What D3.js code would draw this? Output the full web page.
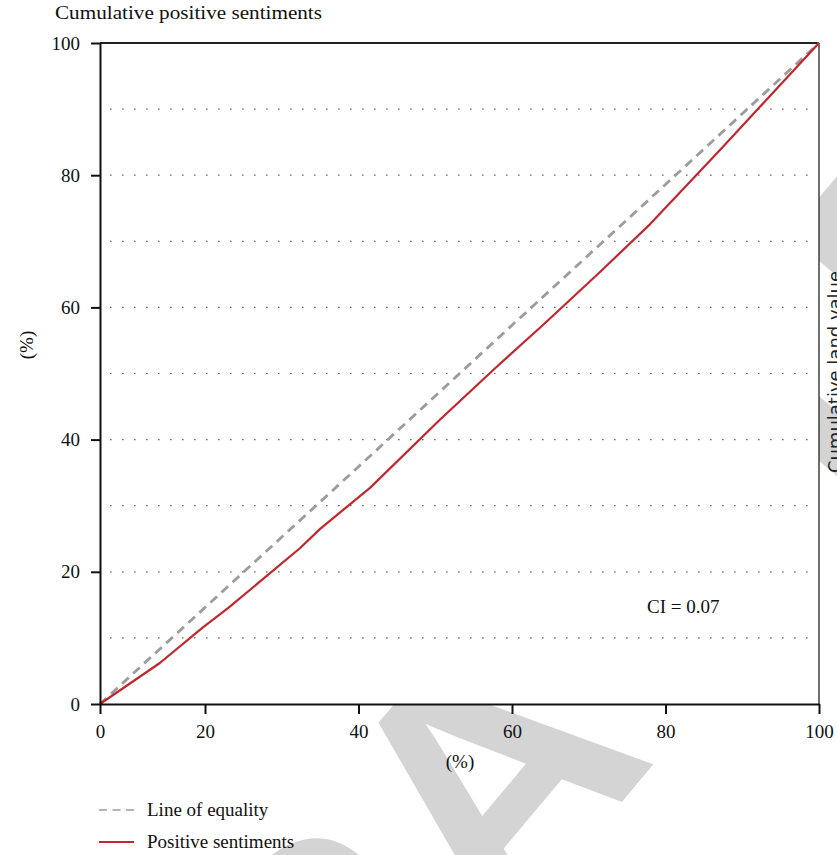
<!DOCTYPE html>
<html><head><meta charset="utf-8">
<script src="https://cdn.jsdelivr.net/npm/d3@7"></script>
<style>body{margin:0;background:#fff}svg{display:block}</style>
</head><body>
<svg id="c" width="837" height="855"></svg>
<script>
// ---- data ----
const xTicks = [0, 20, 40, 60, 80, 100];
const yTicks = [0, 20, 40, 60, 80, 100];
const gridValues = [10, 20, 30, 40, 50, 60, 70, 80, 90];
const equalityX = [0, 20, 40, 60, 80, 100];
const equalityY = [0, 14.6, 35.9, 57.3, 78.6, 100];
const positiveX = [0, 11.4, 19.6, 23.0, 32.4, 35.0, 41.5, 50.6, 57.8, 64.0, 71.5, 78.0, 87.1, 100];
const positiveY = [0, 6.2, 11.6, 14.5, 23.6, 26.5, 32.7, 43.0, 50.8, 57.3, 65.4, 72.6, 83.8, 100];
const legendLabels = ["Line of equality", "Positive sentiments"];
const titleText = "Cumulative positive sentiments";
const rightTitleText = "Cumulative land value";
const axisTitle = "(%)";
const ciLabel = "CI = 0.07";
const watermarkText = "RETRACTED";

// ---- layout ----
const svg = d3.select("#c");
const L = 100, R = 819, T = 43, B = 704;
const x = d3.scaleLinear().domain([0, 20, 100]).range([L, 205, R]);
const y = d3.scaleLinear().domain([0, 100]).range([B, T]);
const serif = "'Liberation Serif', 'Times New Roman', serif";
const wmColor = "#d4d4d4";

// ---- watermark (behind everything) ----
const wmSize = 345;
const wm = svg.append("g");
const wmT = wm.append("text").text(watermarkText)
  .attr("font-family", "'Liberation Sans', Arial, sans-serif")
  .attr("font-weight", "bold").attr("font-size", wmSize).attr("fill", wmColor);
const aStart = wmT.node().getSubStringLength(0, 4);
const aW = wmT.node().getSubStringLength(4, 1);
const capH = 0.716 * wmSize;
wmT.attr("transform", `translate(390,694) rotate(-50) translate(${-(aStart + aW / 2)},${capH})`);

// right clipped title
svg.append("text").text(rightTitleText)
  .attr("font-family", "'DejaVu Sans', sans-serif").attr("font-size", 18).attr("fill", "#222")
  .attr("text-anchor", "middle")
  .attr("transform", "translate(841,372) rotate(-90)");

// plot background (covers watermark)
svg.append("rect").attr("x", L).attr("y", T).attr("width", R - L).attr("height", B - T).attr("fill", "#fff");

// gridlines
svg.append("g").selectAll("line").data(gridValues).join("line")
  .attr("x1", L + 10).attr("x2", R - 6)
  .attr("y1", d => y(d)).attr("y2", d => y(d))
  .attr("stroke", "#6a6a6a").attr("stroke-width", 1.2).attr("stroke-dasharray", "1.6,10.4");

// right border & top border
svg.append("line").attr("x1", R).attr("x2", R).attr("y1", T).attr("y2", B).attr("stroke", "#222").attr("stroke-width", 1.3);
svg.append("line").attr("x1", L).attr("x2", R).attr("y1", T).attr("y2", T).attr("stroke", "#222").attr("stroke-width", 2);

// lines
const lineGen = d3.line().x(d => x(d[0])).y(d => y(d[1]));
const eqData = equalityX.map((v, i) => [v, equalityY[i]]);
const posData = positiveX.map((v, i) => [v, positiveY[i]]);
svg.append("path").datum(eqData).attr("d", lineGen).attr("fill", "none")
  .attr("stroke", "#9c9c9c").attr("stroke-width", 2.8).attr("stroke-dasharray", "9,6");
svg.append("path").datum(posData).attr("d", lineGen).attr("fill", "none")
  .attr("stroke", "#c1272d").attr("stroke-width", 2.2).attr("stroke-linejoin", "round");

// axes
const yAxis = svg.append("g").attr("transform", `translate(${L},0)`)
  .call(d3.axisLeft(y).tickValues(yTicks).tickSize(9).tickSizeOuter(0).tickPadding(11));
const xAxis = svg.append("g").attr("transform", `translate(0,${B})`)
  .call(d3.axisBottom(x).tickValues(xTicks).tickSize(10).tickSizeOuter(0).tickPadding(11));
[yAxis, xAxis].forEach(a => {
  a.select(".domain").attr("stroke", "#111").attr("stroke-width", 2);
  a.selectAll(".tick line").attr("stroke", "#111").attr("stroke-width", 2);
  a.selectAll(".tick text").attr("font-family", serif).attr("font-size", 19).attr("fill", "#111");
});

// titles
svg.append("text").text(titleText).attr("x", 55).attr("y", 19)
  .attr("font-family", serif).attr("font-size", 19).attr("fill", "#111")
  .attr("textLength", 267).attr("lengthAdjust", "spacingAndGlyphs");
svg.append("text").text(axisTitle).attr("text-anchor", "middle")
  .attr("transform", "translate(33,345) rotate(-90)")
  .attr("font-family", serif).attr("font-size", 19).attr("fill", "#111");
svg.append("text").text(axisTitle).attr("text-anchor", "middle").attr("x", 460).attr("y", 768)
  .attr("font-family", serif).attr("font-size", 19).attr("fill", "#111");

// CI annotation
svg.append("text").text(ciLabel).attr("x", 647).attr("y", 613)
  .attr("font-family", serif).attr("font-size", 19).attr("fill", "#111");

// legend
const lg = svg.append("g");
const legendY = [810, 842];
lg.append("line").attr("x1", 99).attr("x2", 134).attr("y1", legendY[0]).attr("y2", legendY[0])
  .attr("stroke", "#9c9c9c").attr("stroke-width", 1.6).attr("stroke-dasharray", "8,5.5");
lg.append("line").attr("x1", 99).attr("x2", 134).attr("y1", legendY[1]).attr("y2", legendY[1])
  .attr("stroke", "#c1272d").attr("stroke-width", 2);
lg.selectAll("text").data(legendLabels).join("text")
  .text(d => d).attr("x", 147).attr("y", (d, i) => legendY[i] + 6)
  .attr("font-family", serif).attr("font-size", 19).attr("fill", "#111");
</script>
</body></html>
